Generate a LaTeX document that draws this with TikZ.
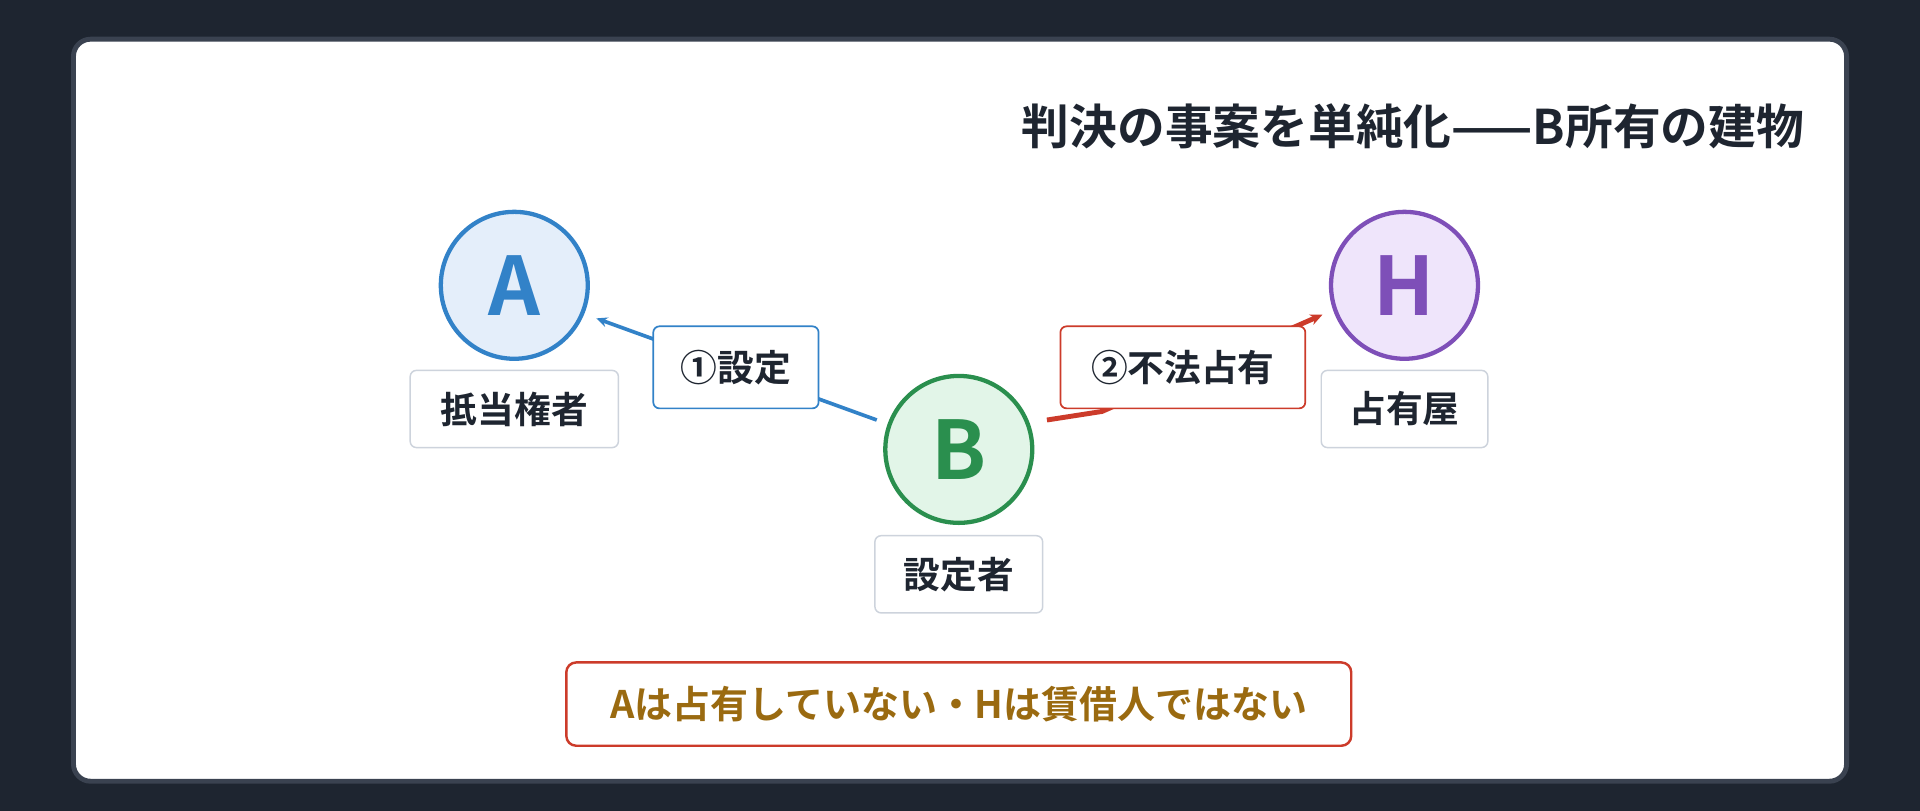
\documentclass[tikz,border=0pt]{standalone}
\usepackage{fontspec}
\setmainfont{Noto Sans CJK JP}[BoldFont={Noto Sans CJK JP Bold}]
\usetikzlibrary{arrows.meta}
\definecolor{bg}{HTML}{1E2530}
\definecolor{cb}{HTML}{3A4250}
\definecolor{txt}{HTML}{1E2530}
\definecolor{ab}{HTML}{3282C8}\definecolor{af}{HTML}{E4EEFA}
\definecolor{bb}{HTML}{2A8F4E}\definecolor{bf}{HTML}{E2F5E8}
\definecolor{hb}{HTML}{7E4FB8}\definecolor{hf}{HTML}{EFE5FB}
\definecolor{rd}{HTML}{CC3B2A}\definecolor{br}{HTML}{9A6A10}
\definecolor{lb}{HTML}{CDD3DC}
\begin{document}
\begin{tikzpicture}[x=1pt,y=-1pt,
 circ/.style={circle,draw=#1,line width=3.5pt,minimum size=120pt,inner sep=0pt,font=\fontsize{66}{66}\selectfont\bfseries},
 lab/.style={draw=lb,line width=1.2pt,fill=white,rounded corners=5pt,minimum height=63pt,inner xsep=8pt,font=\fontsize{30}{30}\selectfont\bfseries,text=txt},
 elab/.style={draw=#1,line width=1.4pt,fill=white,rounded corners=5pt,minimum height=67pt,inner xsep=8pt,font=\fontsize{30}{30}\selectfont\bfseries,text=txt}]
\useasboundingbox (0,0) rectangle (1568,662);
\fill[bg] (0,0) rectangle (1568,662);
\draw[cb,line width=4pt,fill=white,rounded corners=14pt] (60,32) rectangle (1508,638);
\node[anchor=east,font=\fontsize{39}{39}\selectfont\bfseries,text=txt] (title) at (1477,103) {判決の事案を単純化——B所有の建物};
\node[circ=ab,fill=af,text=ab] (A) at (420,233) {A};
\node[circ=bb,fill=bf,text=bb] (B) at (783,367) {B};
\node[circ=hb,fill=hf,text=hb] (H) at (1147,233) {H};
\node[lab,minimum width=170pt] (la) at (420,334) {抵当権者};
\node[lab,minimum width=136pt] (lh) at (1147,334) {占有屋};
\node[lab,minimum width=137pt] (lb) at (783,469) {設定者};
\coordinate (bs) at (716,343);
\coordinate (at) at (487,260);
\draw[ab,line width=3pt,-{Stealth[length=9pt,width=8pt]}] (bs) -- (at);
\node[elab=ab,minimum width=135pt] (e1) at (601,300) {①設定};
\coordinate (rs) at (855,343);
\coordinate (rm) at (900,336);
\coordinate (rt) at (1080,257);
\draw[rd,line width=4pt,-{Stealth[length=10pt,width=9pt]}] (rs) -- (rm) -- (rt);
\node[elab=rd,minimum width=200pt] (e2) at (966,300) {②不法占有};
\node[draw=rd,line width=2pt,fill=white,rounded corners=8pt,minimum width=641pt,minimum height=68pt,font=\fontsize{31}{31}\selectfont\bfseries,text=br] (note) at (783,575) {Aは占有していない・Hは賃借人ではない};
\end{tikzpicture}
\end{document}
